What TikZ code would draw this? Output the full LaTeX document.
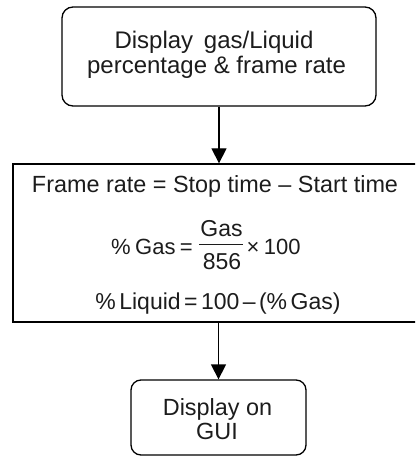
\documentclass[tikz,border=0pt]{standalone}
\usepackage{fontspec}
\setmainfont{Liberation Sans}
\usetikzlibrary{arrows.meta}
\definecolor{ink}{HTML}{1C1C1C}
\tikzset{
  rbox/.style={draw=black, line width=1.3pt, rounded corners=11pt, inner sep=0pt},
  sbox/.style={draw=black, line width=1.3pt, inner sep=0pt},
  txt/.style={anchor=base, inner sep=0pt, text=ink},
  flow/.style={draw=black, line width=1.3pt, -{Triangle[length=15pt,width=15pt]}}
}
\newcommand{\fsA}{\fontsize{24}{26}\selectfont}
\newcommand{\fsB}{\fontsize{23.4}{26}\selectfont}
\newcommand{\fsC}{\fontsize{22}{24}\selectfont}
\newcommand{\fsD}{\fontsize{23}{26}\selectfont}
\begin{document}
\begin{tikzpicture}[x=1pt, y=-1pt]
  \useasboundingbox (0,0) rectangle (415,457);
  \clip (0,0) rectangle (415,457);

  % boxes; the calculation box runs past the right margin
  \node[rbox, minimum width=314pt, minimum height=99pt] (disp) at (219,56.5) {};
  \node[sbox, minimum width=460pt, minimum height=158pt] (calc) at (243,243) {};
  \node[rbox, rounded corners=10pt, minimum width=175pt, minimum height=75pt] (gui) at (218.5,417.5) {};

  % top box text
  \node[txt, font=\fsA] (d1) at (214,48.3) {Display\hspace{0.45em}gas/Liquid};
  \node[txt, font=\fsA] (d2) at (216.5,74) {percentage \& frame rate};

  % calculation box text
  \node[txt, font=\fsB] (c1) at (215,192) {Frame rate = Stop time – Start time};
  \node[txt, font=\fsC, anchor=base east] (pg) at (193,254) {\%\hspace{0.2em}Gas\hspace{0.2em}=};
  \node[txt, font=\fsD] (num) at (221.5,236) {Gas};
  \node[txt, font=\fsD] (den) at (222,269) {856};
  \coordinate (barL) at (199,244);
  \coordinate (barR) at (243,244);
  \draw[line width=1pt, ink] (barL) -- (barR);
  \node[txt, font=\fsC, anchor=base west] (times) at (246.5,254) {×\hspace{0.2em}100};
  \node[txt, font=\fsD] (c3) at (218,309) {\%\hspace{0.15em}Liquid\hspace{0.15em}=\hspace{0.15em}100\hspace{0.15em}–\hspace{0.15em}(\%\hspace{0.15em}Gas)};

  % bottom box text
  \node[txt, font=\fsB] (g1) at (217.5,415) {Display on};
  \node[txt, font=\fsB] (g2) at (217,439.5) {GUI};

  % connectors
  \draw[flow] (disp.south) -- (disp.south |- calc.north);
  \draw[flow] (calc.south -| gui.north) -- (gui.north);
\end{tikzpicture}
\end{document}
